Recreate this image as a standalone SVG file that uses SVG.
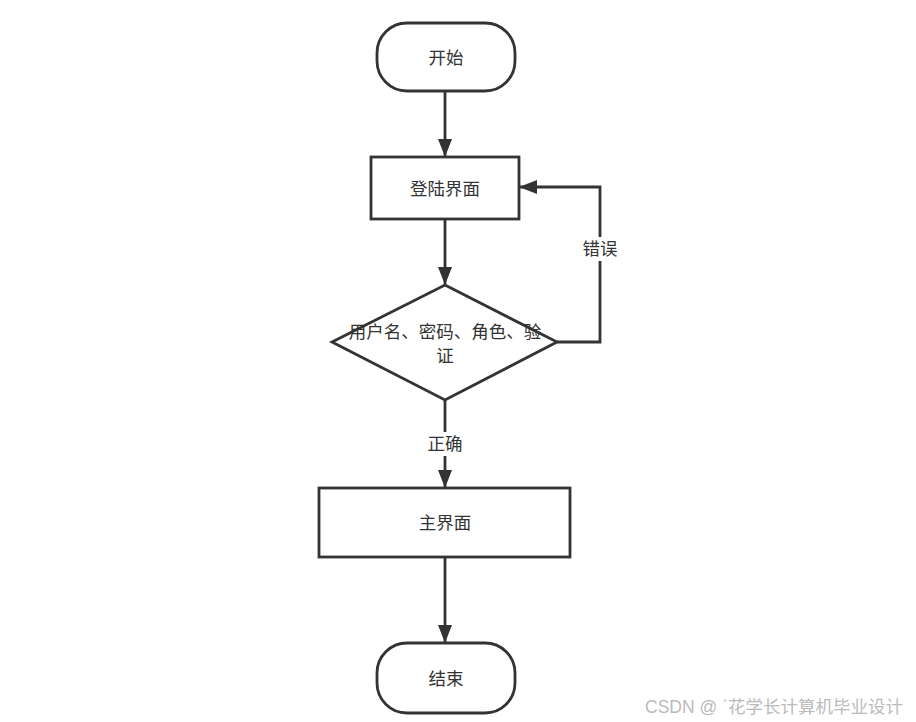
<svg xmlns="http://www.w3.org/2000/svg" width="916" height="722" viewBox="0 0 916 722">
<style>
.n{fill:#fff;stroke:#333;stroke-width:2.8}
.t{font-family:"Noto Sans CJK SC","Noto Sans",sans-serif;font-size:17.5px;fill:#333;text-anchor:middle}
.e{fill:none;stroke:#333;stroke-width:2.8}
.w{font-family:"Liberation Sans","Noto Sans CJK SC",sans-serif;font-size:17.5px;fill:#bbb}
</style>
<defs>
<marker id="a" markerWidth="18" markerHeight="14" refX="17" refY="7" orient="auto" markerUnits="userSpaceOnUse" viewBox="0 0 18 14">
<path d="M0,0 L18,7 L0,14 Z" fill="#333"/>
</marker>
</defs>
<rect width="916" height="722" fill="#fff"/>
<g id="connectors">
<path class="e" d="M445,92 V156" marker-end="url(#a)"/>
<path class="e" d="M445,219 V284" marker-end="url(#a)"/>
<path class="e" d="M557,342 H600 V187 H520" marker-end="url(#a)"/>
<path class="e" d="M445,400 V487" marker-end="url(#a)"/>
<path class="e" d="M445,557 V642" marker-end="url(#a)"/>
<rect x="424" y="432" width="42" height="24" fill="#fff"/>
<text class="t" x="445" y="450">正确</text>
<rect x="579" y="237" width="42" height="24" fill="#fff"/>
<text class="t" x="600" y="255">错误</text>
</g>
<g id="start">
<rect class="n" x="377" y="23" width="138" height="68" rx="30" ry="30"/>
<text class="t" x="446" y="64">开始</text>
</g>
<g id="login">
<rect class="n" x="371" y="157" width="148" height="62"/>
<text class="t" x="445" y="195">登陆界面</text>
</g>
<g id="check">
<polygon class="n" points="445,285 557,342 445,400 332,342"/>
<text class="t" x="445" y="338">用户名、密码、角色、验</text>
<text class="t" x="445" y="362">证</text>
</g>
<g id="main">
<rect class="n" x="319" y="488" width="251" height="69"/>
<text class="t" x="445" y="529">主界面</text>
</g>
<g id="end">
<rect class="n" x="377" y="643" width="138" height="70" rx="30" ry="30"/>
<text class="t" x="446" y="685">结束</text>
</g>
<text class="w" x="645" y="713">CSDN @ ˊ花学长计算机毕业设计</text>
</svg>
